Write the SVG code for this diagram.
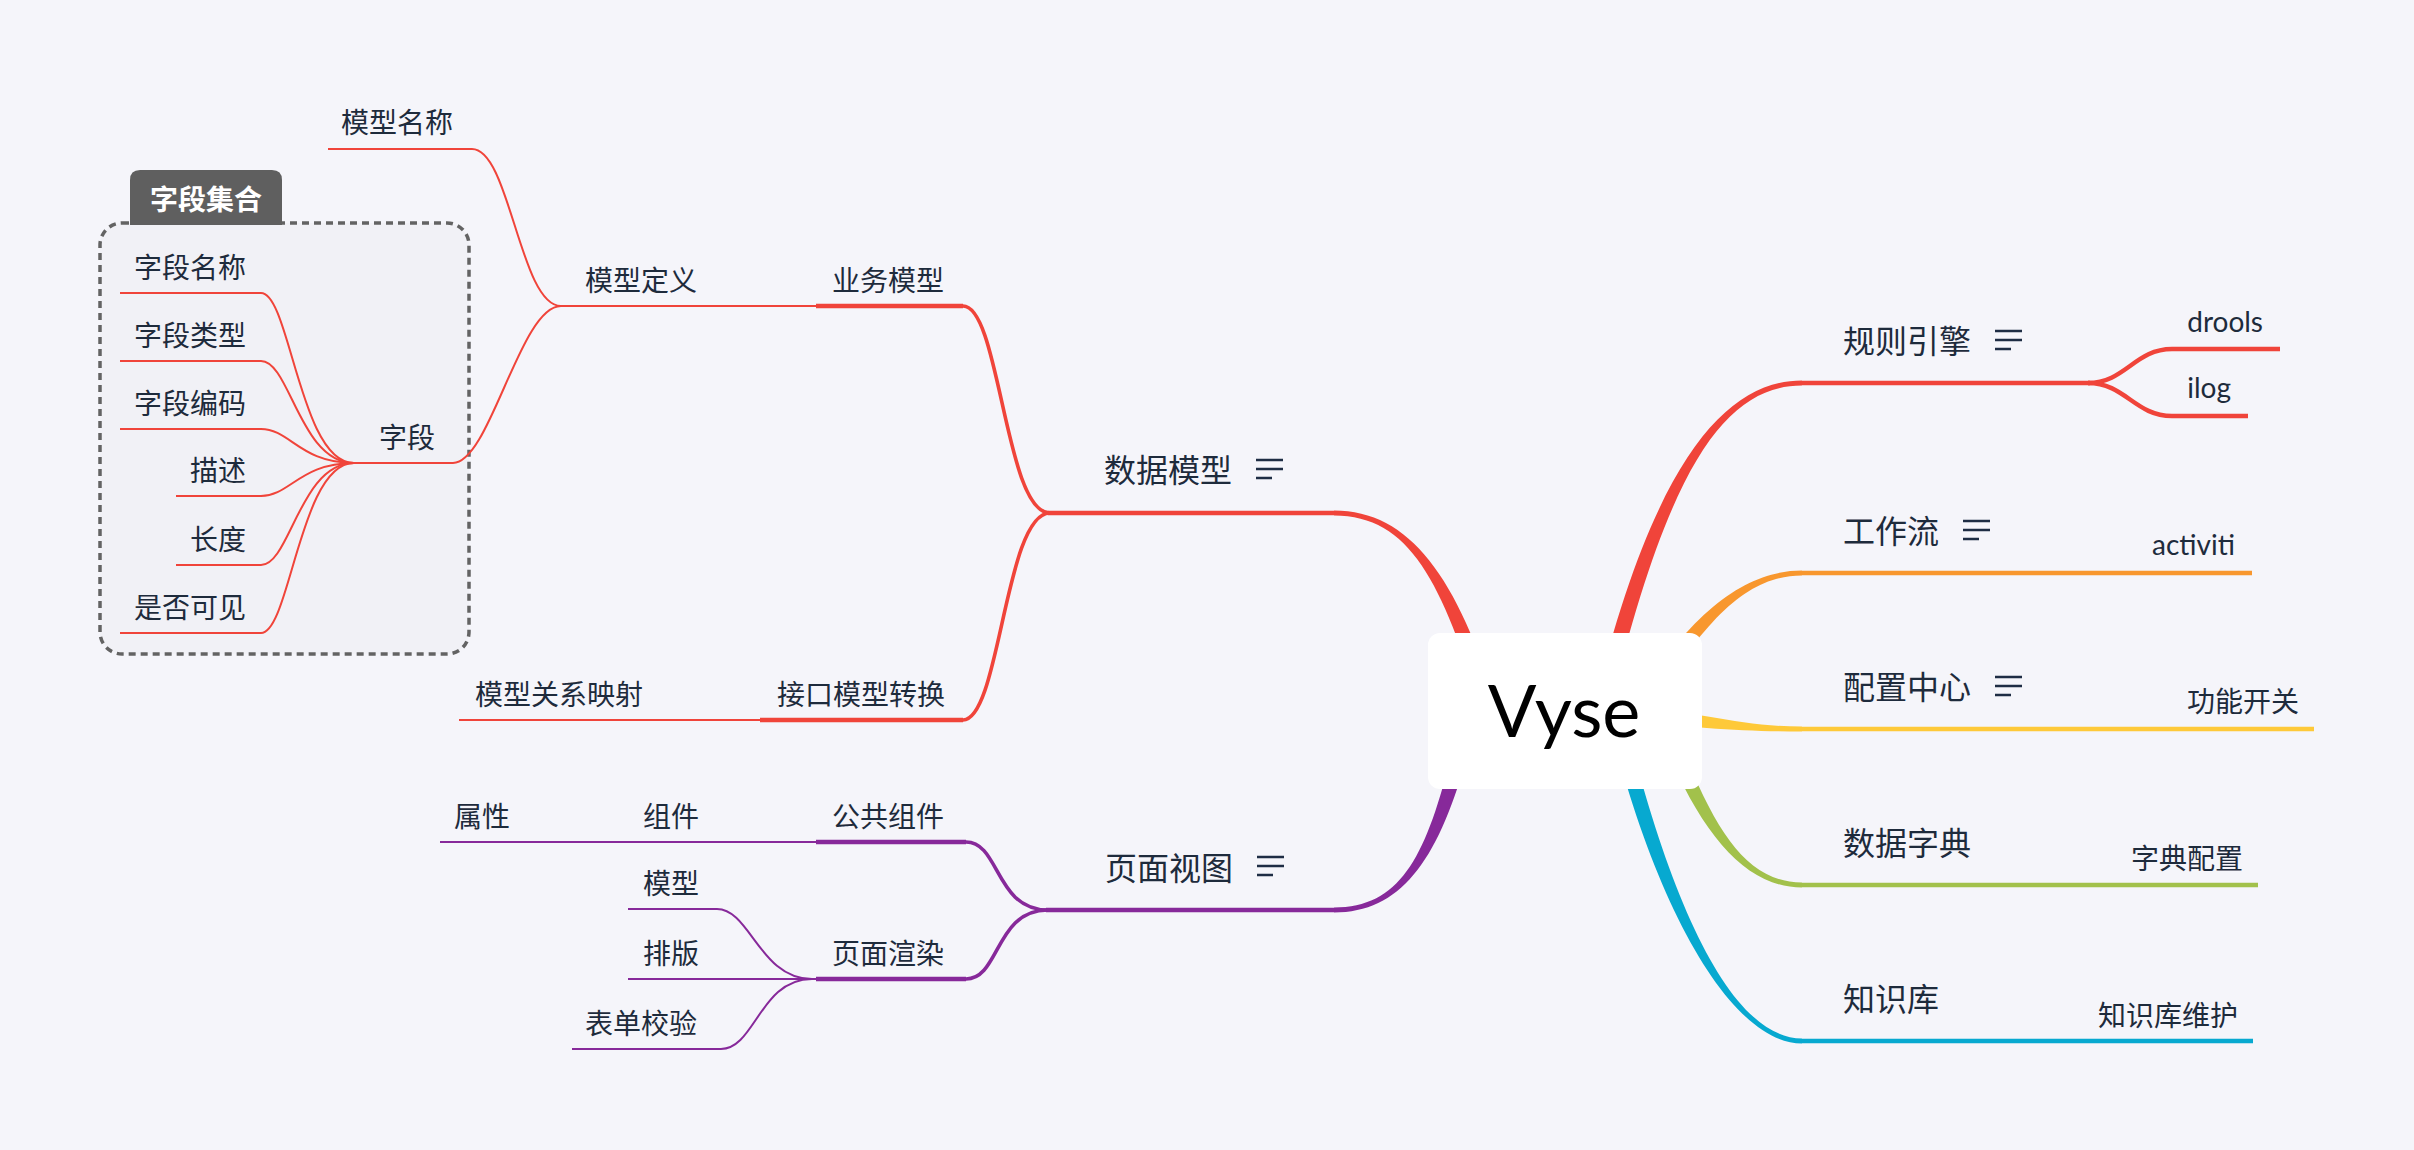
<svg xmlns="http://www.w3.org/2000/svg" xmlns:xlink="http://www.w3.org/1999/xlink" width="2414" height="1150" viewBox="0 0 2414 1150">
<style>
.t{font-family:Lato,"Noto Sans CJK SC",sans-serif;fill:#1E2B3C}
.s{font-size:28px}
.m{font-size:32px}
.r{fill:none;stroke:#F0443A}
.p{fill:none;stroke:#87299A}
.w1{stroke-width:2}
.w2{stroke-width:3.6}
.w3{stroke-width:4.5}
.ic{fill:none;stroke:#1E2D44;stroke-width:2.7}
</style>
<defs>
<g id="menu"><path d="M0 0H27M0 9H27M0 18H16"/></g>
</defs>
<rect width="2414" height="1150" fill="#F5F5FA"/>

<g id="boundary">
<rect x="100" y="223" width="369" height="431" rx="22" fill="#F1F1F6" stroke="#636363" stroke-width="3.5" stroke-dasharray="7 5"/>
<path d="M130 225V180Q130 170 140 170H272Q282 170 282 180V225Z" fill="#5F5F5F"/>
<text x="206" y="210" text-anchor="middle" font-family="Lato,'Noto Sans CJK SC',sans-serif" font-size="28" font-weight="bold" fill="#FFFFFF">字段集合</text>
</g>

<g id="connectors">
<!-- main tapered branches -->
<path d="M1334 510.5C1410 510.5 1457.7 577.7 1497.7 708.7L1482.3 713.3C1442.3 582.3 1410 515.5 1334 515.5Z" fill="#F0443A"/>
<path d="M1334 907.5C1410 907.5 1432.2 841.2 1462.2 709.2L1477.8 712.8C1447.8 844.8 1410 912.5 1334 912.5Z" fill="#87299A"/>
<path d="M1802 385.5C1725 385.5 1667.8 466.9 1608.8 712.9L1593.2 709.1C1652.2 463.1 1725 380.5 1802 380.5Z" fill="#F0443A"/>
<path d="M1802 575.5C1750 575.5 1706.9 614.1 1646.9 715.1L1633.1 706.9C1693.1 605.9 1750 570.5 1802 570.5Z" fill="#F8972E"/>
<path d="M1802 731.5C1740 731.5 1699.2 728 1619.2 720L1620.8 704C1700.8 712 1740 726.5 1802 726.5Z" fill="#FEC939"/>
<path d="M1802 887.5C1740 887.5 1692.5 822.8 1652.5 713.8L1667.5 708.2C1707.5 817.2 1740 882.5 1802 882.5Z" fill="#A2C14B"/>
<path d="M1802 1043.5C1730 1043.5 1652.2 901.9 1607.2 712.9L1622.8 709.1C1667.8 898.1 1730 1038.5 1802 1038.5Z" fill="#07A9D0"/>

<!-- red left -->
<path class="r w3" d="M1048 513H1334"/>
<path class="r w2" d="M963 306C1000 306 1005 513 1050 513"/>
<path class="r w2" d="M963 720C1000 720 1005 513 1050 513"/>
<path class="r w3" d="M816 306H963M760 720H963"/>
<path class="r w1" d="M561 306H816M459 720H760"/>
<path class="r w1" d="M328 149H472C510 149 520 306 561 306"/>
<path class="r w1" d="M354 463H453C490 463 520 306 561 306"/>
<path class="r w1" d="M120 293H261C290 293 300 463 354 463"/>
<path class="r w1" d="M120 361H261C290 361 300 463 354 463"/>
<path class="r w1" d="M120 429H261C290 429 300 463 354 463"/>
<path class="r w1" d="M176 496H261C290 496 300 463 354 463"/>
<path class="r w1" d="M176 565H261C290 565 300 463 354 463"/>
<path class="r w1" d="M120 633H261C290 633 300 463 354 463"/>

<!-- purple left -->
<path class="p w3" d="M1046 910H1334"/>
<path class="p w2" d="M966 842C1000 842 995 910 1048 910"/>
<path class="p w2" d="M966 979C1000 979 995 910 1048 910"/>
<path class="p w3" d="M816 842H966M816 979H966"/>
<path class="p w1" d="M440 842H816M628 979H816"/>
<path class="p w1" d="M628 909H717C750 909 760 979 812 979"/>
<path class="p w1" d="M572 1049H721C755 1049 760 979 812 979"/>

<!-- right side -->
<path class="r w3" d="M1802 383H2090"/>
<path class="r w3" d="M2088 383C2125 383 2135 349 2172 349H2280"/>
<path class="r w3" d="M2088 383C2125 383 2135 416 2172 416H2248"/>
<path fill="none" stroke="#F8972E" stroke-width="4.5" d="M1802 573H2252"/>
<path fill="none" stroke="#FEC939" stroke-width="4.5" d="M1802 729H2314"/>
<path fill="none" stroke="#A2C14B" stroke-width="4.5" d="M1802 885H2258"/>
<path fill="none" stroke="#07A9D0" stroke-width="4.5" d="M1802 1041H2253"/>
</g>

<g id="root">
<rect x="1428" y="633" width="274" height="156" rx="12" fill="#FFFFFF"/>
<text x="1564" y="737" text-anchor="middle" font-family="Lato,'Noto Sans',sans-serif" font-size="72" fill="#000000">Vyse</text>
</g>

<g id="n-shujumoxing"><text class="t m" x="1104" y="482">数据模型</text><use xlink:href="#menu" class="ic" x="1256" y="460"/></g>
<g id="n-yewumoxing"><text class="t s" x="832" y="291">业务模型</text></g>
<g id="n-moxingdingyi"><text class="t s" x="585" y="291">模型定义</text></g>
<g id="n-moxingmingcheng"><text class="t s" x="341" y="133">模型名称</text></g>
<g id="n-ziduan"><text class="t s" x="379" y="448">字段</text></g>
<g id="n-ziduanmingcheng"><text class="t s" x="134" y="278">字段名称</text></g>
<g id="n-ziduanleixing"><text class="t s" x="134" y="346">字段类型</text></g>
<g id="n-ziduanbianma"><text class="t s" x="134" y="414">字段编码</text></g>
<g id="n-miaoshu"><text class="t s" x="190" y="481">描述</text></g>
<g id="n-changdu"><text class="t s" x="190" y="550">长度</text></g>
<g id="n-shifoukejian"><text class="t s" x="134" y="618">是否可见</text></g>
<g id="n-jiekou"><text class="t s" x="777" y="705">接口模型转换</text></g>
<g id="n-guanxi"><text class="t s" x="475" y="705">模型关系映射</text></g>

<g id="n-yemianshitu"><text class="t m" x="1105" y="880">页面视图</text><use xlink:href="#menu" class="ic" x="1257" y="857"/></g>
<g id="n-gonggongzujian"><text class="t s" x="832" y="827">公共组件</text></g>
<g id="n-zujian"><text class="t s" x="643" y="827">组件</text></g>
<g id="n-shuxing"><text class="t s" x="454" y="827">属性</text></g>
<g id="n-yemianxuanran"><text class="t s" x="832" y="964">页面渲染</text></g>
<g id="n-moxing"><text class="t s" x="643" y="894">模型</text></g>
<g id="n-paiban"><text class="t s" x="643" y="964">排版</text></g>
<g id="n-biaodan"><text class="t s" x="585" y="1034">表单校验</text></g>

<g id="n-guizeyinqing"><text class="t m" x="1843" y="353">规则引擎</text><use xlink:href="#menu" class="ic" x="1995" y="331"/></g>
<g id="n-drools"><text class="t s" x="2263" y="332" text-anchor="end">drools</text></g>
<g id="n-ilog"><text class="t s" x="2231" y="398" text-anchor="end">ilog</text></g>
<g id="n-gongzuoliu"><text class="t m" x="1843" y="543">工作流</text><use xlink:href="#menu" class="ic" x="1963" y="521"/></g>
<g id="n-activiti"><text class="t s" x="2235" y="555" text-anchor="end">activiti</text></g>
<g id="n-peizhi"><text class="t m" x="1843" y="699">配置中心</text><use xlink:href="#menu" class="ic" x="1995" y="677"/></g>
<g id="n-gongneng"><text class="t s" x="2299" y="712" text-anchor="end">功能开关</text></g>
<g id="n-zidian"><text class="t m" x="1843" y="855">数据字典</text></g>
<g id="n-zidianpeizhi"><text class="t s" x="2243" y="869" text-anchor="end">字典配置</text></g>
<g id="n-zhishiku"><text class="t m" x="1843" y="1011">知识库</text></g>
<g id="n-zhishikuweihu"><text class="t s" x="2238" y="1026" text-anchor="end">知识库维护</text></g>
</svg>
